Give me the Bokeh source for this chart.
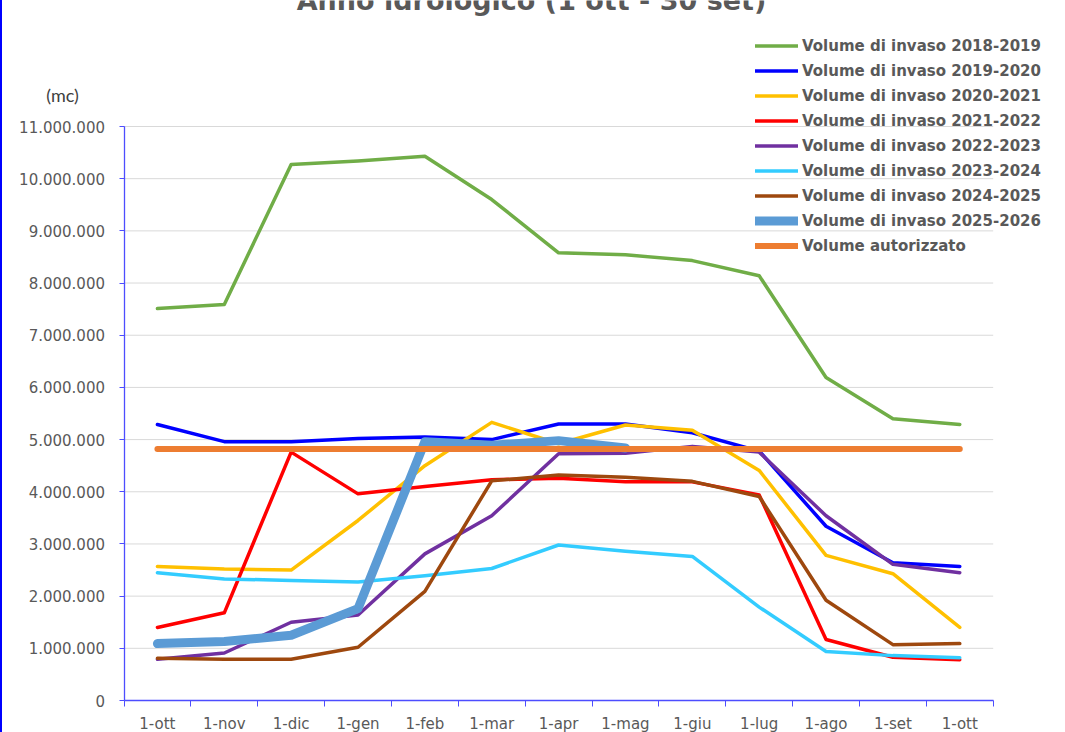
import numpy as np
from bokeh.plotting import figure
from bokeh.models import FixedTicker, Legend, LegendItem, Label, Range1d
from bokeh.embed import file_html
from bokeh.resources import INLINE

# ---------------- data ----------------
months = ["1-ott", "1-nov", "1-dic", "1-gen", "1-feb", "1-mar", "1-apr",
          "1-mag", "1-giu", "1-lug", "1-ago", "1-set", "1-ott"]

v_2018_2019 = [7510000, 7590000, 10270000, 10340000, 10430000, 9600000, 8580000,
               8540000, 8430000, 8140000, 6190000, 5400000, 5290000]
v_2019_2020 = [5290000, 4960000, 4960000, 5020000, 5050000, 5000000, 5300000,
               5300000, 5130000, 4780000, 3340000, 2640000, 2570000]
v_2020_2021 = [2570000, 2520000, 2500000, 3450000, 4500000, 5330000, 4920000,
               5280000, 5180000, 4410000, 2780000, 2430000, 1400000]
v_2021_2022 = [1400000, 1680000, 4760000, 3960000, 4100000, 4230000, 4260000,
               4190000, 4190000, 3940000, 1170000, 830000, 780000]
v_2022_2023 = [790000, 910000, 1500000, 1640000, 2810000, 3540000, 4730000,
               4740000, 4870000, 4760000, 3540000, 2610000, 2450000]
v_2023_2024 = [2450000, 2330000, 2300000, 2270000, 2390000, 2530000, 2980000,
               2860000, 2760000, 1790000, 940000, 860000, 820000]
v_2024_2025 = [810000, 790000, 790000, 1020000, 2090000, 4210000, 4320000,
               4280000, 4200000, 3910000, 1920000, 1070000, 1090000]
v_2025_2026 = [1090000, 1130000, 1250000, 1760000, 4960000, 4890000, 4980000,
               4840000, None, None, None, None, None]
v_autorizzato = [4820000, 4820000, 4820000, 4820000, 4820000, 4820000, 4820000,
                 4820000, 4820000, 4820000, 4820000, 4820000, 4820000]

series_names = ["Volume di invaso 2018-2019", "Volume di invaso 2019-2020",
                "Volume di invaso 2020-2021", "Volume di invaso 2021-2022",
                "Volume di invaso 2022-2023", "Volume di invaso 2023-2024",
                "Volume di invaso 2024-2025", "Volume di invaso 2025-2026",
                "Volume autorizzato"]
series_values = [v_2018_2019, v_2019_2020, v_2020_2021, v_2021_2022, v_2022_2023,
                 v_2023_2024, v_2024_2025, v_2025_2026, v_autorizzato]
series_colors = ["#70AD47", "#0000FF", "#FFC000", "#FF0000", "#7030A0",
                 "#33CCFF", "#9E480E", "#5B9BD5", "#ED7D31"]
series_widths = [3.5, 3.5, 3.5, 3.5, 3.5, 3.5, 3.5, 9, 6]

y_ticks = [0, 1000000, 2000000, 3000000, 4000000, 5000000, 6000000,
           7000000, 8000000, 9000000, 10000000, 11000000]
y_tick_labels = ["0", "1.000.000", "2.000.000", "3.000.000", "4.000.000",
                 "5.000.000", "6.000.000", "7.000.000", "8.000.000",
                 "9.000.000", "10.000.000", "11.000.000"]

title_text = "Anno idrologico (1 ott - 30 set)"
y_unit = "(mc)"

# ---------------- layout (pixels) ----------------
W, H = 1065, 732
AX_LEFT, AX_RIGHT = 123.5, 992.7    # where the category axis starts / ends
AX_TOP, AX_BOTTOM = 126, 700        # 11.000.000 and 0
n = len(months)
x_lo, x_hi = -0.5, n - 0.5
y_lo, y_hi = y_ticks[0], y_ticks[-1]
px_per_x = (AX_RIGHT - AX_LEFT) / (x_hi - x_lo)
px_per_y = (AX_BOTTOM - AX_TOP) / (y_hi - y_lo)
# the frame covers the whole canvas; axes are drawn at fixed data locations
x_start = x_lo - AX_LEFT / px_per_x
x_end = x_lo + (W - AX_LEFT) / px_per_x
y_start = y_lo - (H - AX_BOTTOM) / px_per_y
y_end = y_lo + AX_BOTTOM / px_per_y


def sx(px):
    return x_lo + (px - AX_LEFT) / px_per_x


def sy(py):
    return y_lo + (AX_BOTTOM - py) / px_per_y


p = figure(width=W, height=H, output_backend="svg", toolbar_location=None,
           x_range=Range1d(x_start, x_end), y_range=Range1d(y_start, y_end),
           min_border_left=0, min_border_right=0,
           min_border_top=0, min_border_bottom=0)
p.outline_line_color = None
p.background_fill_color = None
p.border_fill_color = None
p.styles = {"box-shadow": "inset 2px 0 0 #0000FF", "background-color": "white"}

axis_col = "#4D4DFF"
label_col = "#595959"

x_idx = list(range(n))
p.xaxis.fixed_location = y_lo
p.xaxis.bounds = (x_lo, x_hi)
p.xaxis.ticker = FixedTicker(ticks=x_idx, minor_ticks=[i - 0.5 for i in range(n + 1)])
p.xaxis.major_label_overrides = {i: m for i, m in enumerate(months)}
p.xaxis.major_tick_out = 0
p.xaxis.major_tick_in = 0
p.xaxis.minor_tick_out = 6
p.xaxis.minor_tick_in = 0
p.xaxis.axis_line_color = axis_col
p.xaxis.axis_line_width = 1.3
p.xaxis.minor_tick_line_color = axis_col
p.xaxis.major_label_text_font = "DejaVu Sans"
p.xaxis.major_label_text_font_size = "15px"
p.xaxis.major_label_text_color = label_col
p.xaxis.major_label_standoff = 8

p.yaxis.fixed_location = x_lo
p.yaxis.bounds = (y_lo, y_hi)
p.yaxis.ticker = FixedTicker(ticks=y_ticks, minor_ticks=[])
p.yaxis.major_label_overrides = {t: l for t, l in zip(y_ticks, y_tick_labels)}
p.yaxis.major_tick_out = 5
p.yaxis.major_tick_in = 0
p.yaxis.minor_tick_line_color = None
p.yaxis.axis_line_color = axis_col
p.yaxis.axis_line_width = 1.3
p.yaxis.major_tick_line_color = axis_col
p.yaxis.major_label_text_font = "DejaVu Sans"
p.yaxis.major_label_text_font_size = "15px"
p.yaxis.major_label_text_color = label_col
p.yaxis.major_label_standoff = 14

p.xgrid.grid_line_color = None
p.ygrid.grid_line_color = None
# horizontal gridlines limited to the axis extent
p.segment(x0=x_lo, x1=x_hi, y0=y_ticks[1:], y1=y_ticks[1:],
          line_color="#D9D9D9", line_width=1)

items = []
for name, vals, col, w in zip(series_names, series_values, series_colors, series_widths):
    y = np.array([np.nan if v is None else v for v in vals], dtype=float)
    r = p.line(x_idx, y, line_color=col, line_width=w,
               line_cap="round", line_join="round")
    items.append(LegendItem(label=name, renderers=[r]))

LEG_LEFT, LEG_TOP, ROW = 755, 33, 25
legend = Legend(items=items,
                location=(LEG_LEFT, H - (LEG_TOP + ROW * len(items))),
                orientation="vertical", padding=0, margin=0, spacing=0,
                label_standoff=4, glyph_width=43, glyph_height=ROW, label_height=ROW,
                label_text_font="DejaVu Sans", label_text_font_style="bold",
                label_text_font_size="15px", label_text_color=label_col,
                background_fill_alpha=0, border_line_color=None)
p.add_layout(legend, "center")

p.add_layout(Label(x=sx(62), y=sy(94), text=y_unit, text_align="center",
                   text_baseline="middle", text_font="Lato",
                   text_font_size="18px", text_color="#404040"))
p.add_layout(Label(x=sx(531), y=sy(0), text=title_text, text_align="center",
                   text_baseline="alphabetic", text_font="DejaVu Sans",
                   text_font_style="bold", text_font_size="27px",
                   text_color=label_col))

open("out.html", "w").write(file_html(p, INLINE))
